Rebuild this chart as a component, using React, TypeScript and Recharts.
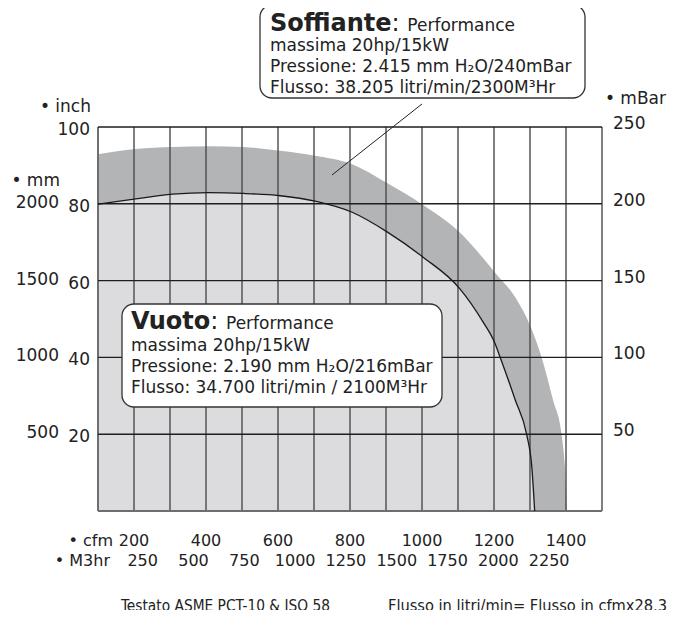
import { ComposedChart, Area, Line, XAxis, YAxis, ReferenceLine } from "recharts";

// curve: x in cfm, y in inch of water
const vacuumCfm = [100, 205, 307, 407, 504, 606, 703, 806, 903, 1003, 1103, 1169, 1202, 1218, 1259, 1291, 1305, 1313];
const vacuumInch = [79.9, 81.3, 82.5, 82.9, 82.7, 82.1, 80.7, 77.8, 72.7, 66.1, 58.1, 49.3, 43.8, 39.8, 28.9, 19.8, 11.5, 0];
const blowerCfm = [100, 205, 307, 407, 504, 606, 703, 806, 903, 1003, 1103, 1202, 1264, 1300, 1333, 1364, 1388, 1397, 1403];
const blowerInch = [92.9, 94.3, 94.8, 95.0, 94.8, 93.8, 92.5, 90.3, 85.4, 79.7, 72.7, 62.2, 54.9, 48.4, 39.8, 28.9, 19.8, 11.5, 0];

const cfmTicks = [200, 400, 600, 800, 1000, 1200, 1400];
const m3hrTicks = [250, 500, 750, 1000, 1250, 1500, 1750, 2000, 2250];
const inchTicks = [20, 40, 60, 80, 100];
const mmTicks = [500, 1000, 1500, 2000];
const mbarTicks = [50, 100, 150, 200, 250];
const gridCfm = [100, 200, 300, 400, 500, 600, 700, 800, 900, 1000, 1100, 1200, 1300, 1400, 1500];
const gridInch = [20, 40, 60, 80, 100];

const vacuumData = vacuumCfm.map((c, i) => ({ cfm: c, inch: vacuumInch[i] }));
const blowerData = blowerCfm.map((c, i) => ({ cfm: c, inch: blowerInch[i] }));
// invisible helper so the M3hr axis has something to scale
const m3hrData = m3hrTicks.map((m) => ({ m3: m, inch: 0 }));

const FONT = "DejaVu Sans, Verdana, sans-serif";
const NOTE_FONT = "DejaVu Sans Condensed, DejaVu Sans, sans-serif";

const tickText = (anchor: "start" | "middle" | "end", dy: number, size: number) => (p: any) => (
  <text
    x={p.x}
    y={p.y + dy}
    textAnchor={anchor}
    dominantBaseline="central"
    fontSize={size}
    fontFamily={FONT}
    fill="#222"
  >
    {p.payload.value}
  </text>
);

function App() {
  return (
    <div style={{ position: "relative", width: 664, height: 602 }}>
      <ComposedChart
        width={664}
        height={602}
        margin={{ top: 119, right: 10, bottom: 35, left: 18 }}
      >
        <XAxis
          xAxisId="cfm"
          type="number"
          dataKey="cfm"
          domain={[100, 1500]}
          allowDataOverflow
          ticks={cfmTicks}
          height={34}
          tickSize={0}
          tickMargin={29}
          axisLine={false}
          tickLine={false}
          tick={tickText("middle", 0, 16)}
        />
        <XAxis
          xAxisId="m3"
          type="number"
          dataKey="m3"
          domain={[30, 2510]}
          allowDataOverflow
          ticks={m3hrTicks}
          height={30}
          tickSize={0}
          tickMargin={15}
          axisLine={false}
          tickLine={false}
          tick={tickText("middle", 0, 16)}
        />
        <YAxis
          yAxisId="inch"
          type="number"
          domain={[0, 100]}
          allowDataOverflow
          ticks={inchTicks}
          width={32}
          tickSize={0}
          tickMargin={8}
          axisLine={false}
          tickLine={false}
          tick={tickText("end", 2, 17)}
        />
        <YAxis
          yAxisId="mm"
          type="number"
          domain={[0, 2500]}
          allowDataOverflow
          ticks={mmTicks}
          width={40}
          tickSize={0}
          tickMargin={7}
          axisLine={false}
          tickLine={false}
          tick={tickText("end", -2, 17)}
        />
        <YAxis
          yAxisId="mbar"
          orientation="right"
          type="number"
          domain={[0, 250]}
          allowDataOverflow
          ticks={mbarTicks}
          width={60}
          tickSize={0}
          tickMargin={11}
          axisLine={false}
          tickLine={false}
          tick={tickText("start", -4, 17)}
        />

        <Area
          data={blowerData}
          xAxisId="cfm"
          yAxisId="inch"
          dataKey="inch"
          type="monotone"
          fill="#b3b4b6"
          fillOpacity={1}
          stroke="none"
          isAnimationActive={false}
        />
        <Area
          data={vacuumData}
          xAxisId="cfm"
          yAxisId="inch"
          dataKey="inch"
          type="monotone"
          fill="#dcdcde"
          fillOpacity={1}
          stroke="none"
          isAnimationActive={false}
        />
        <Line
          data={m3hrData}
          xAxisId="m3"
          yAxisId="inch"
          dataKey="inch"
          stroke="none"
          dot={false}
          activeDot={false}
          isAnimationActive={false}
        />

        {gridCfm.map((v) => (
          <ReferenceLine
            key={"gx" + v}
            xAxisId="cfm"
            yAxisId="inch"
            x={v}
            stroke={v === 100 ? "#6e6e6e" : "#4a4a4a"}
            strokeWidth={v === 100 ? 2 : 1.4}
          />
        ))}
        {gridInch.map((v) => (
          <ReferenceLine
            key={"gy" + v}
            xAxisId="cfm"
            yAxisId="inch"
            y={v}
            stroke="#1e1e1e"
            strokeWidth={1.4}
          />
        ))}
        <ReferenceLine xAxisId="cfm" yAxisId="inch" y={0} stroke="#6e6e6e" strokeWidth={2} />

        <Line
          data={vacuumData}
          xAxisId="cfm"
          yAxisId="inch"
          dataKey="inch"
          type="monotone"
          stroke="#1a1a1a"
          strokeWidth={1.3}
          dot={false}
          isAnimationActive={false}
        />

        <ReferenceLine
          xAxisId="cfm"
          yAxisId="inch"
          ifOverflow="visible"
          segment={[
            { x: 1000, y: 106 },
            { x: 750, y: 87.5 },
          ]}
          stroke="#222"
          strokeWidth={1}
        />
      </ComposedChart>

      <svg
        width={672}
        height={612}
        style={{ position: "absolute", left: -8, top: -8, pointerEvents: "none", overflow: "visible" }}
        fontFamily={FONT}
        fill="#222"
      >
        <text x={91} y={112} fontSize={17} textAnchor="end">• inch</text>
        <text x={60} y={186} fontSize={17} textAnchor="end">• mm</text>
        <text x={666} y={104} fontSize={17} textAnchor="end">• mBar</text>
        <text x={113} y={546} fontSize={16} textAnchor="end">• cfm</text>
        <text x={110} y={566} fontSize={16} textAnchor="end">• M3hr</text>

        <rect x={260} y={5} width={325} height={93} rx={12} fill="#fff" stroke="#333" strokeWidth={1.3} />
        <text x={270} y={31}>
          <tspan fontSize={24} fontWeight="bold">Soffiante</tspan>
          <tspan fontSize={24}>: </tspan>
          <tspan fontSize={17}>Performance</tspan>
        </text>
        <text x={270} y={51} fontSize={17}>massima 20hp/15kW</text>
        <text x={270} y={72} fontSize={17}>Pressione: 2.415 mm H₂O/240mBar</text>
        <text x={270} y={93} fontSize={17}>Flusso: 38.205 litri/min/2300M³Hr</text>

        <rect x={122} y={304} width={320} height={103} rx={12} fill="#fff" stroke="#333" strokeWidth={1.3} />
        <text x={131} y={329}>
          <tspan fontSize={24} fontWeight="bold">Vuoto</tspan>
          <tspan fontSize={24}>: </tspan>
          <tspan fontSize={17}>Performance</tspan>
        </text>
        <text x={131} y={351} fontSize={17}>massima 20hp/15kW</text>
        <text x={131} y={372} fontSize={17}>Pressione: 2.190 mm H₂O/216mBar</text>
        <text x={131} y={393} fontSize={17}>Flusso: 34.700 litri/min / 2100M³Hr</text>

        <text x={121} y={611} fontSize={16} fontFamily={NOTE_FONT} textLength={209} lengthAdjust="spacingAndGlyphs">
          Testato ASME PCT-10 &amp; ISO 58
        </text>
        <text x={388} y={611} fontSize={16} fontFamily={NOTE_FONT} textLength={279} lengthAdjust="spacingAndGlyphs">
          Flusso in litri/min= Flusso in cfmx28,3
        </text>
      </svg>
    </div>
  );
}

export default App;
